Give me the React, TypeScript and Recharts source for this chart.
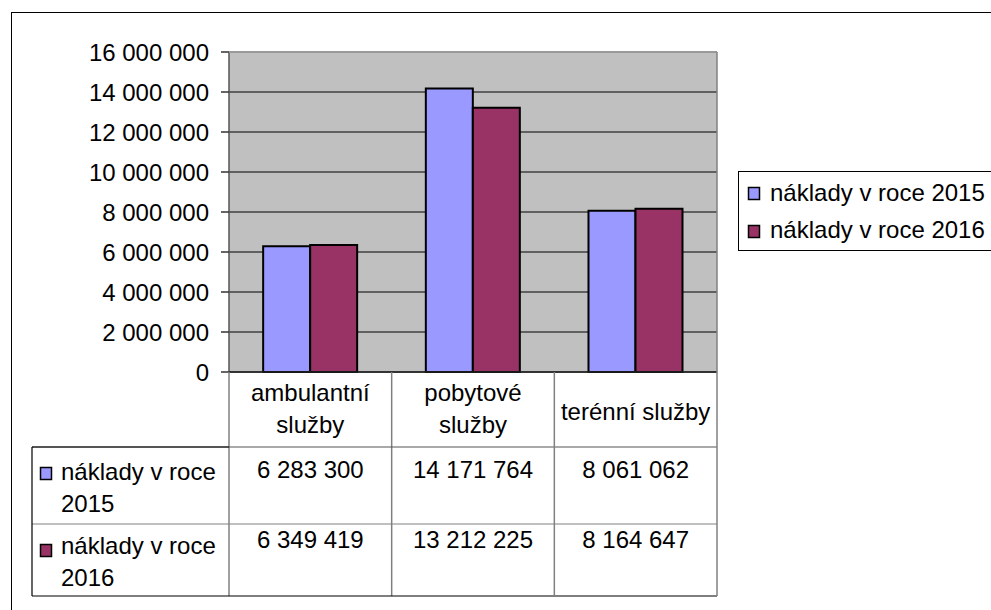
import React from 'react';
import { BarChart, Bar, XAxis, YAxis, CartesianGrid, Legend } from 'recharts';

// ---- data ----
const categories = ['ambulantní služby', 'pobytové služby', 'terénní služby'];
const categoryLines = [['ambulantní', 'služby'], ['pobytové', 'služby'], ['terénní služby']];
const costs2015 = [6283300, 14171764, 8061062];
const costs2016 = [6349419, 13212225, 8164647];
const seriesNames = ['náklady v roce 2015', 'náklady v roce 2016'];
const seriesLabelLines = [['náklady v roce', '2015'], ['náklady v roce', '2016']];
const yTicks = [0, 2000000, 4000000, 6000000, 8000000, 10000000, 12000000, 14000000, 16000000];

const data = categories.map((c, i) => ({ name: c, y2015: costs2015[i], y2016: costs2016[i] }));
const seriesValues = [costs2015, costs2016];

// ---- layout / style ----
const W = 991;
const H = 610;
const PLOT_LEFT = 229;
const PLOT_RIGHT = 717;
const PLOT_TOP = 52;
const PLOT_BOTTOM = 372;
const BAND = (PLOT_RIGHT - PLOT_LEFT) / categories.length;
const TABLE_LEFT = 32;
const ROW1_TOP = 447;
const ROW2_TOP = 524;
const TABLE_BOTTOM = 596;
const FONT = '"Liberation Sans", Arial, sans-serif';
const FS = 24;
const COLORS = ['#9999FF', '#993366'];

const fmt = (n: number) => String(n).replace(/\B(?=(\d{3})+(?!\d))/g, ' ');

function TableTick(props: any) {
  const { x, index } = props;
  const i = index;
  const left = x - BAND / 2;
  const right = x + BAND / 2;
  const lines = categoryLines[i];
  const headerBaselines = lines.length === 2 ? [401, 433] : [420];
  const valueBaselines = [478, 548];
  const rowTops = [ROW1_TOP, ROW2_TOP];
  const labelBaselines = [[480, 512], [554, 586]];
  return (
    <g>
      {lines.map((t, k) => (
        <text key={k} x={x} y={headerBaselines[k]} textAnchor="middle" fontFamily={FONT} fontSize={FS} fill="#000">
          {t}
        </text>
      ))}
      {seriesValues.map((vals, s) => (
        <text key={'v' + s} x={x} y={valueBaselines[s]} textAnchor="middle" fontFamily={FONT} fontSize={FS} fill="#000">
          {fmt(vals[i])}
        </text>
      ))}
      <line x1={right} y1={i === categories.length - 1 ? PLOT_TOP : PLOT_BOTTOM} x2={right} y2={TABLE_BOTTOM} stroke="#808080" strokeWidth={1.5} />
      {i === 0 && (
        <g>
          <line x1={PLOT_LEFT} y1={PLOT_TOP} x2={PLOT_RIGHT} y2={PLOT_TOP} stroke="#999" strokeWidth={2} />
          <line x1={left} y1={PLOT_BOTTOM} x2={left} y2={TABLE_BOTTOM} stroke="#808080" strokeWidth={1.5} />
          <line x1={TABLE_LEFT} y1={ROW1_TOP} x2={PLOT_RIGHT} y2={ROW1_TOP} stroke="#555" strokeWidth={1.2} />
          <line x1={TABLE_LEFT} y1={ROW2_TOP} x2={PLOT_RIGHT} y2={ROW2_TOP} stroke="#808080" strokeWidth={1} />
          <line x1={TABLE_LEFT} y1={TABLE_BOTTOM} x2={PLOT_RIGHT} y2={TABLE_BOTTOM} stroke="#000" strokeWidth={1.2} />
          <line x1={TABLE_LEFT} y1={ROW1_TOP} x2={TABLE_LEFT} y2={TABLE_BOTTOM} stroke="#000" strokeWidth={1.2} />
          <line x1={TABLE_LEFT} y1={ROW1_TOP} x2={left} y2={ROW1_TOP} stroke="#000" strokeWidth={1.2} />
          {seriesLabelLines.map((ls, s) => (
            <g key={'l' + s}>
              <rect x={40.5} y={rowTops[s] + 20.5} width={11} height={12} fill={COLORS[s]} stroke="#000" strokeWidth={1.5} />
              {ls.map((t, k) => (
                <text key={k} x={61} y={labelBaselines[s][k]} fontFamily={FONT} fontSize={FS} fill="#000">
                  {t}
                </text>
              ))}
            </g>
          ))}
        </g>
      )}
    </g>
  );
}

function LegendBox() {
  return (
    <svg width={270} height={82} style={{ display: 'block' }}>
      <rect x={0.5} y={0.5} width={300} height={79} fill="#fff" stroke="#000" strokeWidth={1} />
      {seriesNames.map((n, s) => (
        <g key={n}>
          <rect x={10.5} y={16.5 + s * 38} width={11} height={12} fill={COLORS[s]} stroke="#000" strokeWidth={1.5} />
          <text x={32} y={29.5 + s * 37} fontFamily={FONT} fontSize={FS} fill="#000">
            {n}
          </text>
        </g>
      ))}
    </svg>
  );
}

export default function App() {
  return (
    <div style={{ position: 'absolute', left: 0, top: 0, width: W, height: H, overflow: 'hidden', background: '#fff' }}>
      <div
        style={{
          position: 'absolute',
          left: 11,
          top: 12,
          width: 1100,
          height: 800,
          border: '1px solid #000',
          boxSizing: 'border-box',
        }}
      />
      <div style={{ position: 'absolute', left: 0, top: 0 }}>
        <BarChart
          width={W}
          height={H}
          data={data}
          margin={{ top: PLOT_TOP, right: W - PLOT_RIGHT, bottom: 0, left: 0 }}
          barCategoryGap="21%"
          barGap={0}
        >
          <CartesianGrid vertical={false} fill="#C0C0C0" stroke="#404040" strokeWidth={1.5} />
          <YAxis
            width={PLOT_LEFT}
            domain={[0, 16000000]}
            ticks={yTicks}
            interval={0}
            tickFormatter={fmt}
            tickSize={8}
            tickMargin={12}
            axisLine={{ stroke: '#555', strokeWidth: 1.5 }}
            tickLine={{ stroke: '#333', strokeWidth: 1.5 }}
            tick={{ fill: '#000', fontFamily: FONT, fontSize: FS }}
          />
          <XAxis
            dataKey="name"
            height={H - PLOT_BOTTOM}
            interval={0}
            tickLine={false}
            axisLine={{ stroke: '#222', strokeWidth: 1.5 }}
            tick={<TableTick />}
          />
          <Bar dataKey="y2015" name={seriesNames[0]} fill={COLORS[0]} stroke="#000" strokeWidth={2} isAnimationActive={false} />
          <Bar dataKey="y2016" name={seriesNames[1]} fill={COLORS[1]} stroke="#000" strokeWidth={2} isAnimationActive={false} />
          <Legend
            layout="horizontal"
            align="center"
            verticalAlign="middle"
            content={() => <LegendBox />}
            wrapperStyle={{ position: 'absolute', left: 738, top: 171, width: 270, height: 82, margin: 0 }}
          />
        </BarChart>
      </div>
    </div>
  );
}
